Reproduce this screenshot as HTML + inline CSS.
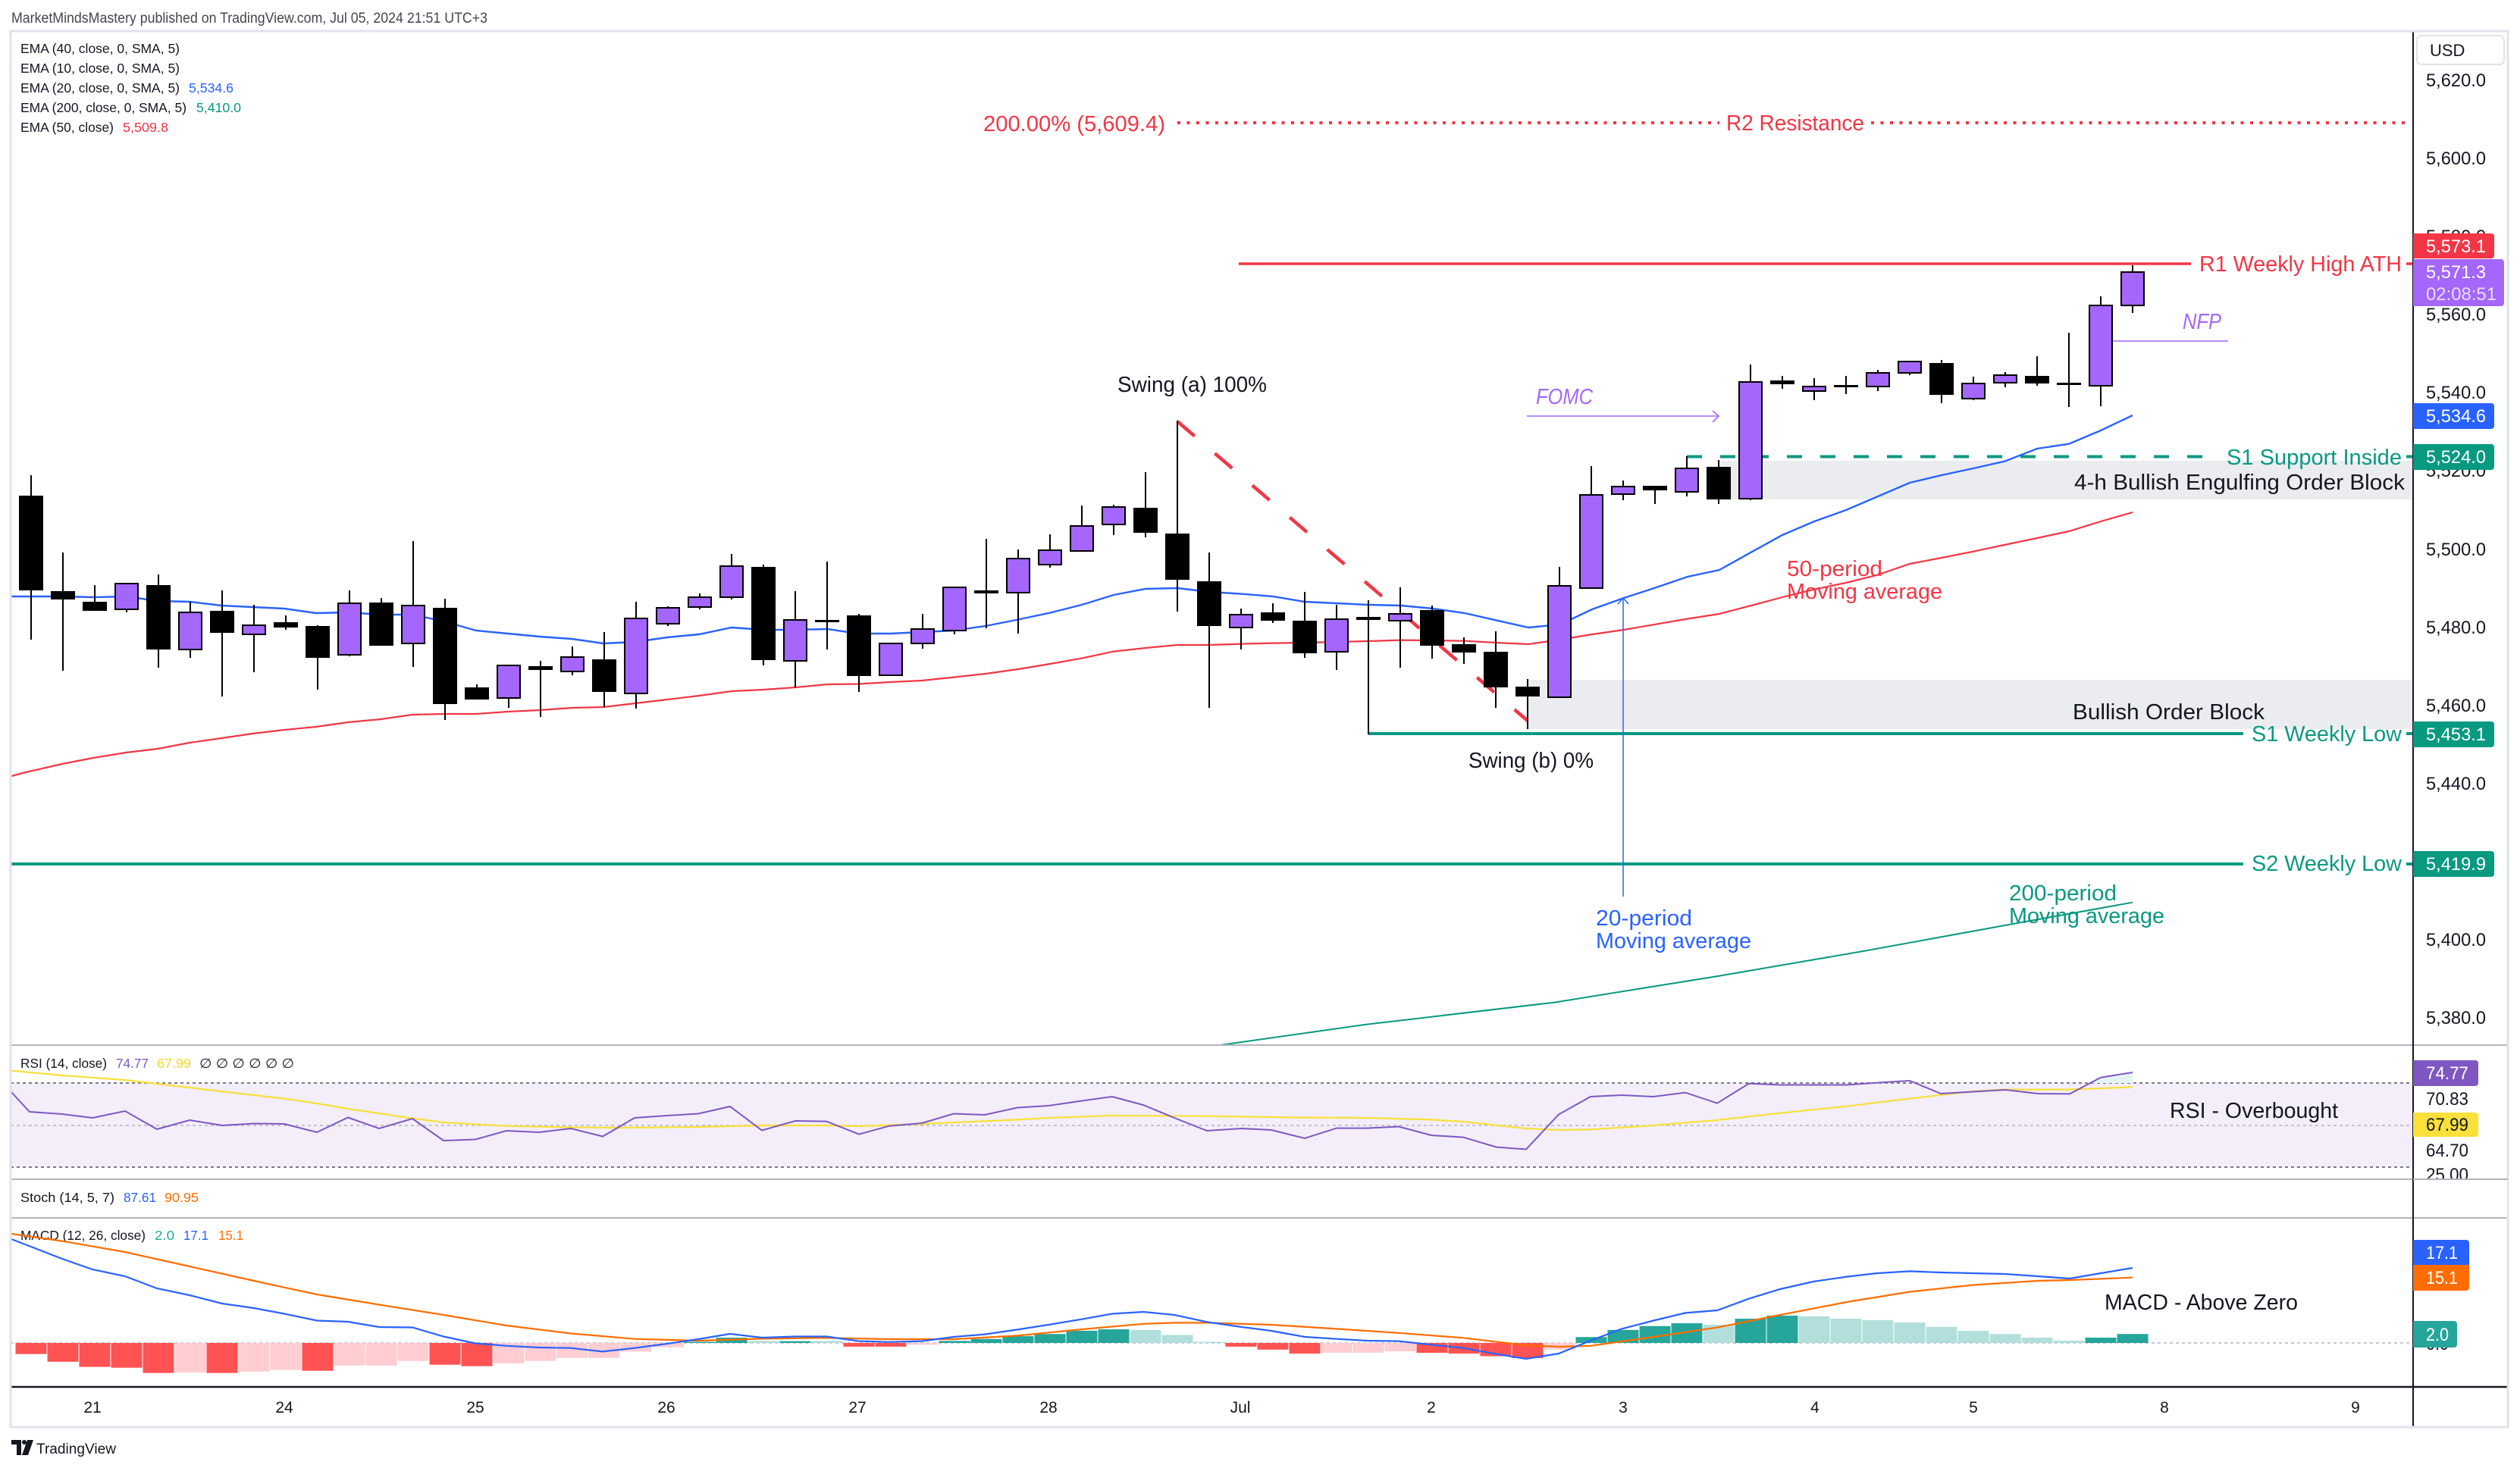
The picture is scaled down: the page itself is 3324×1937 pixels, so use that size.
<!DOCTYPE html>
<html><head><meta charset="utf-8"><style>
html,body{margin:0;padding:0;background:#fff;}
svg{display:block;}
text{font-family:"Liberation Sans",sans-serif;}
</style></head><body>
<svg width="3324" height="1937" viewBox="0 0 3324 1937" xmlns="http://www.w3.org/2000/svg">
<defs>
<clipPath id="cMain"><rect x="14" y="41" width="3169" height="1338"/></clipPath>
<clipPath id="cRsi"><rect x="14" y="1380" width="3169" height="176"/></clipPath>
<clipPath id="cMacd"><rect x="14" y="1608" width="3169" height="222"/></clipPath>
</defs>
<rect width="3324" height="1937" fill="#fff"/>

<!-- header -->
<text x="15" y="30" font-size="19" fill="#434651" textLength="628" lengthAdjust="spacingAndGlyphs">MarketMindsMastery published on TradingView.com, Jul 05, 2024 21:51 UTC+3</text>

<!-- RSI band -->
<rect x="14" y="1429" width="3169" height="111" fill="#f3eef9"/>

<!-- main pane content -->
<g clip-path="url(#cMain)">
  <!-- order blocks -->
  <rect x="2015" y="897" width="1168" height="65" fill="#ebecef"/>
  <rect x="2267" y="608" width="916" height="51" fill="#ebecef"/>

  <!-- R2 dotted -->
  <line x1="1553" y1="162" x2="2268" y2="162" stroke="#f23645" stroke-width="4" stroke-dasharray="4 8.5"/>
  <line x1="2468" y1="162" x2="3180" y2="162" stroke="#f23645" stroke-width="4" stroke-dasharray="4 8.5"/>
  <!-- R1 -->
  <line x1="1634" y1="348" x2="2890" y2="348" stroke="#f23645" stroke-width="3.5"/>
  <line x1="3174" y1="348" x2="3183" y2="348" stroke="#f23645" stroke-width="3.5"/>
  <!-- S1 support dashed -->
  <line x1="2225" y1="602.5" x2="2905" y2="602.5" stroke="#089981" stroke-width="4" stroke-dasharray="20 24"/>
  <line x1="3174" y1="602.5" x2="3183" y2="602.5" stroke="#089981" stroke-width="4"/>
  <!-- S1 weekly low -->
  <line x1="1805" y1="968" x2="2959" y2="968" stroke="#089981" stroke-width="4"/>
  <line x1="3174" y1="968" x2="3183" y2="968" stroke="#089981" stroke-width="4"/>
  <!-- S2 weekly low -->
  <line x1="14" y1="1140" x2="2959" y2="1140" stroke="#089981" stroke-width="4"/>
  <line x1="3174" y1="1140" x2="3183" y2="1140" stroke="#089981" stroke-width="4"/>

  <!-- EMA lines -->
  <polyline fill="none" stroke="#089981" stroke-width="2" points="1560,1386 1800,1352 2050,1322.7 2266,1288 2458,1255 2650,1220 2813,1190.7"/>
  <polyline fill="none" stroke="#f23645" stroke-width="2.2" points="0,1029 15,1024 34,1019 82,1008 123,1000 166,993 208,988 250,980 292,974 333,968 375,963 417,959 459,953 502,949 544,943 586,942 628,942 670,939 712,937 754,934 796,933 838,928 880,923 922,918 965,912 1007,910 1049,907 1091,903 1132,902.5 1174,900 1216,898 1258,893.6 1300,889 1343,883 1385,876 1427,868.6 1469,859.6 1511,855 1553,851 1595,851 1637,849.6 1679,848.6 1721,848 1763,847 1805,846 1848,844.6 1890,845 1932,845.7 1974,848 2016,850 2058,844 2100,837 2142,831 2226,816.5 2268,810 2310,799 2351,788 2393,777.7 2435,769 2477,758.5 2519,744 2561,736 2603,727.7 2645,718.75 2687,710 2729,701 2771,688 2813,676"/>
  <polyline fill="none" stroke="#2962ff" stroke-width="2.4" points="15,787 40,787 82,787 123,788 166,787 208,793 250,794 292,799 333,801 375,803 417,809 459,808 502,811 544,811 586,820 628,832 670,836 712,840 754,843 796,849 838,847 880,841 922,837 965,828 1007,831 1049,831 1091,830 1132,836 1174,836 1216,834 1258,832 1300,826 1343,817.5 1385,808.6 1427,798 1469,785 1511,777 1553,776 1595,781 1637,783.6 1679,787 1721,794 1763,796 1805,798 1848,799 1890,803 1932,809 1974,818.6 2016,828 2058,824 2100,804 2142,789 2182,776 2226,761 2268,752 2310,728.6 2351,706 2393,688 2435,673 2477,655 2519,637 2561,627 2603,618 2645,608.5 2687,592 2729,585.7 2771,568 2813,548"/>

  <!-- swing dashed -->
  <line x1="1553" y1="556" x2="2015" y2="951" stroke="#f23645" stroke-width="4.5" stroke-dasharray="30 35"/>

  <!-- FOMC arrow -->
  <line x1="2014" y1="549" x2="2267" y2="549" stroke="#a466fb" stroke-width="1.6"/>
  <polyline points="2259,542 2267,549 2259,557" fill="none" stroke="#a466fb" stroke-width="1.6"/>
  <!-- NFP line -->
  <line x1="2787" y1="450" x2="2939" y2="450" stroke="#a466fb" stroke-width="1.6"/>
  <!-- 20 period pointer -->
  <line x1="2141" y1="789" x2="2141" y2="1183" stroke="#2962ff" stroke-width="1.5"/>
  <polyline points="2134,797 2141,789 2148,797" fill="none" stroke="#2962ff" stroke-width="1.5"/>

  <!-- wicks -->
  <path fill="none" stroke="#000" stroke-width="2" d="M41 627V844M83 729V885M125 772V806M167 770V808M209 758V881M251 794V868M293 779V919M335 798V887M377 812V831M419 825V910M461 779V866M503 789V852M545 714V880M587 790V950M629 903V923M671 878V934M713 872V946M755 853V891M797 834V933M839 794V935M881 800V826M923 783V804M965 731V791M1007 745V878M1049 780V907M1091 741V857M1133 810V913M1175 849V892M1217 810V856M1259 774V837M1301 711V829M1343 725V836M1385 705V749M1427 667V727M1469 666V706M1511 623V709M1553 555V807M1595 729V934M1637 803V857M1679 796V822M1721 781V868M1763 798V884M1805 792V969M1847 775V881M1889 799V869M1931 841V876M1973 833V934M2015 896V962M2057 748V920M2099 615V777M2141 634V660M2183 641V665M2225 602V655M2267 607V665M2309 481V660M2351 496V513M2393 499V528M2435 496V520M2477 488V516M2519 477V495M2561 475V532M2603 497V528M2645 491V511M2687 470V509M2729 439V537M2771 391V536M2813 350V413"/>
  <!-- black bodies -->
  <g fill="#000">
    <rect x="25" y="654" width="32" height="125"/><rect x="67" y="780" width="32" height="11"/><rect x="109" y="794" width="32" height="12"/><rect x="193" y="772" width="32" height="85"/><rect x="277" y="806" width="32" height="29"/><rect x="361" y="821" width="32" height="7"/><rect x="403" y="826" width="32" height="42"/><rect x="487" y="795" width="32" height="57"/><rect x="571" y="802" width="32" height="127"/><rect x="613" y="907" width="32" height="16"/><rect x="697" y="879" width="32" height="5"/><rect x="781" y="870" width="32" height="43"/><rect x="991" y="748" width="32" height="123"/><rect x="1075" y="818" width="32" height="3"/><rect x="1117" y="812" width="32" height="80"/><rect x="1285" y="779" width="32" height="4"/><rect x="1495" y="670" width="32" height="33"/><rect x="1537" y="704" width="32" height="61"/><rect x="1579" y="767" width="32" height="59"/><rect x="1663" y="808" width="32" height="11"/><rect x="1705" y="819" width="32" height="43"/><rect x="1789" y="814" width="32" height="4"/><rect x="1873" y="805" width="32" height="47"/><rect x="1915" y="850" width="32" height="11"/><rect x="1957" y="860" width="32" height="47"/><rect x="1999" y="906" width="32" height="13"/><rect x="2167" y="641" width="32" height="6"/><rect x="2251" y="616" width="32" height="43"/><rect x="2335" y="502" width="32" height="5"/><rect x="2419" y="508" width="32" height="3"/><rect x="2545" y="479" width="32" height="42"/><rect x="2671" y="496" width="32" height="10"/><rect x="2713" y="505" width="32" height="3"/>
  </g>
  <!-- purple bodies -->
  <g fill="#a466fb" stroke="#000" stroke-width="2">
    <rect x="152" y="770" width="30" height="34"/><rect x="236" y="808" width="30" height="49"/><rect x="320" y="825" width="30" height="12"/><rect x="446" y="796" width="30" height="68"/><rect x="530" y="799" width="30" height="50"/><rect x="656" y="878" width="30" height="43"/><rect x="740" y="867" width="30" height="19"/><rect x="824" y="816" width="30" height="99"/><rect x="866" y="802" width="30" height="21"/><rect x="908" y="788" width="30" height="13"/><rect x="950" y="747" width="30" height="41"/><rect x="1034" y="818" width="30" height="54"/><rect x="1160" y="849" width="30" height="42"/><rect x="1202" y="830" width="30" height="19"/><rect x="1244" y="775" width="30" height="57"/><rect x="1328" y="737" width="30" height="45"/><rect x="1370" y="726" width="30" height="19"/><rect x="1412" y="694" width="30" height="33"/><rect x="1454" y="669" width="30" height="23"/><rect x="1622" y="811" width="30" height="17"/><rect x="1748" y="817" width="30" height="43"/><rect x="1832" y="810" width="30" height="9"/><rect x="2042" y="773" width="30" height="147"/><rect x="2084" y="653" width="30" height="123"/><rect x="2126" y="642" width="30" height="10"/><rect x="2210" y="618" width="30" height="31"/><rect x="2294" y="504" width="30" height="154"/><rect x="2378" y="510" width="30" height="6"/><rect x="2462" y="492" width="30" height="18"/><rect x="2504" y="477" width="30" height="15"/><rect x="2588" y="506" width="30" height="20"/><rect x="2630" y="495" width="30" height="10"/><rect x="2756" y="403" width="30" height="106"/><rect x="2798" y="359" width="30" height="44"/>
  </g>

  <!-- annotations -->
  <text x="1297" y="173" font-size="29" fill="#f23645" textLength="240" lengthAdjust="spacingAndGlyphs">200.00% (5,609.4)</text>
  <text x="2277" y="172" font-size="29" fill="#f23645" textLength="182" lengthAdjust="spacingAndGlyphs">R2 Resistance</text>
  <text x="2901" y="358" font-size="29" fill="#f23645" textLength="267" lengthAdjust="spacingAndGlyphs">R1 Weekly High ATH</text>
  <text x="2879" y="434" font-size="29" font-style="italic" fill="#a466fb" textLength="51" lengthAdjust="spacingAndGlyphs">NFP</text>
  <text x="1474" y="517" font-size="29" fill="#131722" textLength="197" lengthAdjust="spacingAndGlyphs">Swing (a) 100%</text>
  <text x="2026" y="533" font-size="29" font-style="italic" fill="#a466fb" textLength="75" lengthAdjust="spacingAndGlyphs">FOMC</text>
  <text x="2937" y="613" font-size="29" fill="#089981" textLength="231" lengthAdjust="spacingAndGlyphs">S1 Support Inside</text>
  <text x="2736" y="646" font-size="29" fill="#131722" textLength="436" lengthAdjust="spacingAndGlyphs">4-h Bullish Engulfing Order Block</text>
  <text x="2357" y="760" font-size="29" fill="#f23645" textLength="126" lengthAdjust="spacingAndGlyphs">50-period</text>
  <text x="2357" y="790" font-size="29" fill="#f23645" textLength="205" lengthAdjust="spacingAndGlyphs">Moving average</text>
  <text x="2734" y="949" font-size="29" fill="#131722" textLength="253" lengthAdjust="spacingAndGlyphs">Bullish Order Block</text>
  <text x="2970" y="978" font-size="29" fill="#089981" textLength="198" lengthAdjust="spacingAndGlyphs">S1 Weekly Low</text>
  <text x="1937" y="1013" font-size="29" fill="#131722" textLength="165" lengthAdjust="spacingAndGlyphs">Swing (b) 0%</text>
  <text x="2970" y="1149" font-size="29" fill="#089981" textLength="198" lengthAdjust="spacingAndGlyphs">S2 Weekly Low</text>
  <text x="2650" y="1188" font-size="29" fill="#089981" textLength="142" lengthAdjust="spacingAndGlyphs">200-period</text>
  <text x="2650" y="1218" font-size="29" fill="#089981" textLength="205" lengthAdjust="spacingAndGlyphs">Moving average</text>
  <text x="2105" y="1221" font-size="29" fill="#2962ff" textLength="127" lengthAdjust="spacingAndGlyphs">20-period</text>
  <text x="2105" y="1251" font-size="29" fill="#2962ff" textLength="205" lengthAdjust="spacingAndGlyphs">Moving average</text>
</g>

<!-- legend -->
<g font-size="17.5" fill="#131722">
  <text x="27" y="70" textLength="210" lengthAdjust="spacingAndGlyphs">EMA (40, close, 0, SMA, 5)</text>
  <text x="27" y="96" textLength="210" lengthAdjust="spacingAndGlyphs">EMA (10, close, 0, SMA, 5)</text>
  <text x="27" y="122" textLength="210" lengthAdjust="spacingAndGlyphs">EMA (20, close, 0, SMA, 5)</text>
  <text x="249" y="122" fill="#2962ff" textLength="59" lengthAdjust="spacingAndGlyphs">5,534.6</text>
  <text x="27" y="148" textLength="219" lengthAdjust="spacingAndGlyphs">EMA (200, close, 0, SMA, 5)</text>
  <text x="259" y="148" fill="#089981" textLength="59" lengthAdjust="spacingAndGlyphs">5,410.0</text>
  <text x="27" y="174" textLength="123" lengthAdjust="spacingAndGlyphs">EMA (50, close)</text>
  <text x="162" y="174" fill="#f23645" textLength="60" lengthAdjust="spacingAndGlyphs">5,509.8</text>
</g>

<!-- RSI pane -->
<line x1="14" y1="1429" x2="3183" y2="1429" stroke="#787b86" stroke-width="2" stroke-dasharray="4 4"/>
<line x1="14" y1="1485" x2="3183" y2="1485" stroke="#b2b5be" stroke-width="1.5" stroke-dasharray="4 4"/>
<line x1="14" y1="1540" x2="3183" y2="1540" stroke="#787b86" stroke-width="2" stroke-dasharray="4 4"/>
<g clip-path="url(#cRsi)">
  <polygon points="2752,1429 2771,1421.7 2813,1415 2813,1429" fill="#e6f4f1"/>
  <polyline fill="none" stroke="#f9e03a" stroke-width="2.2" points="15,1412.7 82,1419 165,1425 207,1430 296,1440.5 378,1450 418,1456 459,1463 544,1475.6 585,1481 668,1485.7 753,1487.5 816,1488 921,1487 1005,1485 1090,1485 1133,1486 1216,1483 1342,1477.4 1383,1475 1467,1472 1592,1472.7 1710,1474.5 1803,1475 1888,1477.4 1930,1480 2013,1489 2056,1491 2098,1490.4 2181,1485 2265,1478 2348,1468.7 2436,1459.7 2519,1449.6 2603,1440 2645,1437.6 2730,1437.6 2813,1434.4"/>
  <polyline fill="none" stroke="#7e57c2" stroke-width="2" points="15,1441 39,1467 82,1470 122,1475 165,1466 207,1490 250,1478 293,1485 335,1482.5 375,1483 418,1494 459,1474.5 500,1489 544,1476 585,1505 627,1503.5 668,1492 711,1494 753,1489 795,1499.5 837,1475 880,1472 921,1469.5 963,1460 1005,1491.5 1049,1479 1090,1479.6 1133,1496.6 1173,1485.7 1216,1482 1258,1469.5 1299,1471 1342,1461.5 1383,1459 1427,1452.5 1467,1447 1508,1458 1549,1475 1592,1492 1638,1489 1677,1491 1721,1502 1763,1488.6 1803,1488.6 1845,1486.5 1888,1498 1930,1500.6 1974,1513.6 2013,1516.5 2056,1470.5 2098,1447 2139,1445 2181,1447 2223,1441.6 2265,1455.7 2307,1429.7 2348,1431.5 2392,1431.5 2436,1431.5 2476,1428.6 2519,1426 2560,1443 2603,1440.5 2645,1438 2688,1443 2730,1443.4 2771,1421.7 2813,1415"/>
</g>
<g font-size="17.5">
  <text x="27" y="1409" fill="#131722" textLength="114" lengthAdjust="spacingAndGlyphs">RSI (14, close)</text>
  <text x="153" y="1409" fill="#7e57c2" textLength="43" lengthAdjust="spacingAndGlyphs">74.77</text>
  <text x="207" y="1409" fill="#f5d826" textLength="45" lengthAdjust="spacingAndGlyphs">67.99</text>
  <text x="263" y="1409" fill="#131722" textLength="125" lengthAdjust="spacingAndGlyphs">∅ ∅ ∅ ∅ ∅ ∅</text>
  <text x="27" y="1586" fill="#131722" textLength="124" lengthAdjust="spacingAndGlyphs">Stoch (14, 5, 7)</text>
  <text x="163" y="1586" fill="#2962ff" textLength="43" lengthAdjust="spacingAndGlyphs">87.61</text>
  <text x="217" y="1586" fill="#ff6d00" textLength="45" lengthAdjust="spacingAndGlyphs">90.95</text>
  <text x="27" y="1636" fill="#131722" textLength="165" lengthAdjust="spacingAndGlyphs">MACD (12, 26, close)</text>
  <text x="204" y="1636" fill="#22ab94" textLength="26" lengthAdjust="spacingAndGlyphs">2.0</text>
  <text x="242" y="1636" fill="#2962ff" textLength="33" lengthAdjust="spacingAndGlyphs">17.1</text>
  <text x="288" y="1636" fill="#ff6d00" textLength="33" lengthAdjust="spacingAndGlyphs">15.1</text>
</g>
<text x="2862" y="1475" font-size="29" fill="#131722" textLength="222" lengthAdjust="spacingAndGlyphs">RSI - Overbought</text>

<!-- MACD pane -->
<line x1="14" y1="1772" x2="3183" y2="1772" stroke="#b2b5be" stroke-width="1.5" stroke-dasharray="4 4"/>
<g clip-path="url(#cMacd)">
<g fill="#ff5252">
<rect x="20.5" y="1772" width="41" height="14.6"/><rect x="62.5" y="1772" width="41" height="24.8"/><rect x="104.5" y="1772" width="41" height="31.6"/><rect x="146.5" y="1772" width="41" height="32.7"/><rect x="188.5" y="1772" width="41" height="39.6"/><rect x="272.5" y="1772" width="41" height="39.6"/><rect x="398.5" y="1772" width="41" height="36.7"/><rect x="566.5" y="1772" width="41" height="28.7"/><rect x="608.5" y="1772" width="41" height="30.6"/><rect x="1112.5" y="1772" width="41" height="4.9"/><rect x="1154.5" y="1772" width="41" height="4.9"/><rect x="1616.5" y="1772" width="41" height="4.9"/><rect x="1658.5" y="1772" width="41" height="8.8"/><rect x="1700.5" y="1772" width="41" height="14"/><rect x="1868.5" y="1772" width="41" height="13"/><rect x="1910.5" y="1772" width="41" height="14"/><rect x="1952.5" y="1772" width="41" height="17.5"/><rect x="1994.5" y="1772" width="41" height="20"/>
</g>
<g fill="#ffcdd2">
<rect x="230.5" y="1772" width="41" height="38.9"/><rect x="314.5" y="1772" width="41" height="37.8"/><rect x="356.5" y="1772" width="41" height="35.6"/><rect x="440.5" y="1772" width="41" height="29.8"/><rect x="482.5" y="1772" width="41" height="29.8"/><rect x="524.5" y="1772" width="41" height="23.7"/><rect x="650.5" y="1772" width="41" height="26.9"/><rect x="692.5" y="1772" width="41" height="23.7"/><rect x="734.5" y="1772" width="41" height="19.7"/><rect x="776.5" y="1772" width="41" height="19.7"/><rect x="818.5" y="1772" width="41" height="11.4"/><rect x="860.5" y="1772" width="41" height="5.6"/><rect x="1196.5" y="1772" width="41" height="2.3"/><rect x="1742.5" y="1772" width="41" height="12.8"/><rect x="1784.5" y="1772" width="41" height="12.8"/><rect x="1826.5" y="1772" width="41" height="11"/><rect x="2036.5" y="1772" width="41" height="8.8"/>
</g>
<g fill="#26a69a">
<rect x="902.5" y="1770.5" width="41" height="1.5"/><rect x="944.5" y="1765" width="41" height="7"/><rect x="1028.5" y="1769.6" width="41" height="2.4"/><rect x="1238.5" y="1769.3" width="41" height="2.7"/><rect x="1280.5" y="1766.7" width="41" height="5.3"/><rect x="1322.5" y="1763.1" width="41" height="8.9"/><rect x="1364.5" y="1760.2" width="41" height="11.8"/><rect x="1406.5" y="1755.9" width="41" height="16.1"/><rect x="1448.5" y="1754" width="41" height="18"/><rect x="2078.5" y="1764.2" width="41" height="7.8"/><rect x="2120.5" y="1754.8" width="41" height="17.2"/><rect x="2162.5" y="1749.7" width="41" height="22.3"/><rect x="2204.5" y="1746" width="41" height="26"/><rect x="2288.5" y="1740" width="41" height="32"/><rect x="2330.5" y="1736" width="41" height="36"/><rect x="2750.5" y="1765" width="41" height="7"/><rect x="2792.5" y="1760.2" width="41" height="11.8"/>
</g>
<g fill="#b2dfdb">
<rect x="986.5" y="1769.3" width="41" height="2.7"/><rect x="1070.5" y="1769.3" width="41" height="2.7"/><rect x="1490.5" y="1755" width="41" height="17"/><rect x="1532.5" y="1761.5" width="41" height="10.5"/><rect x="1574.5" y="1770.5" width="41" height="1.5"/><rect x="2246.5" y="1748" width="41" height="24"/><rect x="2372.5" y="1737" width="41" height="35"/><rect x="2414.5" y="1740" width="41" height="32"/><rect x="2456.5" y="1741.8" width="41" height="30.2"/><rect x="2498.5" y="1745" width="41" height="27"/><rect x="2540.5" y="1750.8" width="41" height="21.2"/><rect x="2582.5" y="1756" width="41" height="16"/><rect x="2624.5" y="1760.2" width="41" height="11.8"/><rect x="2666.5" y="1765" width="41" height="7"/><rect x="2708.5" y="1768.9" width="41" height="3.1"/>
</g>
<polyline fill="none" stroke="#ff6d00" stroke-width="2.2" points="15,1628 82,1637.6 165,1652 250,1671 335,1690 418,1708 500,1721.5 585,1735 668,1749 753,1759.5 837,1766.7 921,1769 1005,1766.4 1090,1765.3 1173,1767 1258,1767 1342,1762.4 1427,1754 1508,1746.8 1549,1745.4 1592,1745.4 1677,1748 1763,1753.4 1845,1758.8 1930,1765.3 2013,1775 2056,1777 2098,1775.8 2181,1764 2265,1751.6 2348,1735 2436,1718 2519,1704.5 2603,1695.5 2688,1690 2730,1689 2813,1685.7"/>
<polyline fill="none" stroke="#2962ff" stroke-width="2.2" points="15,1635 41,1645 82,1661 122,1675 165,1684 207,1700 250,1709 293,1720 335,1726 375,1733.5 418,1742.5 459,1744 500,1751 544,1751.5 585,1763.5 627,1772.5 668,1775.8 711,1778 753,1778.7 795,1783.4 837,1778.7 880,1773 921,1767 963,1760 1005,1765 1049,1763.5 1090,1763.5 1133,1769.6 1173,1770.7 1216,1769.6 1258,1764 1299,1760.6 1342,1754.4 1383,1748 1427,1740.7 1467,1733.5 1508,1731 1549,1735 1592,1744.3 1638,1751 1677,1756 1721,1764 1763,1766.7 1803,1769 1845,1769.6 1888,1774.3 1930,1778.7 1974,1786.6 2013,1793 2056,1786 2098,1769 2139,1753.4 2181,1742.5 2223,1732.4 2265,1729 2307,1713.6 2348,1701 2392,1691 2436,1684.6 2476,1680 2519,1677.4 2560,1679 2603,1680 2645,1681 2688,1684 2730,1687 2771,1680 2813,1673"/>
</g>
<text x="2776" y="1728" font-size="29" fill="#131722" textLength="255" lengthAdjust="spacingAndGlyphs">MACD - Above Zero</text>

<!-- pane separators and frame -->
<line x1="14" y1="1379" x2="3308" y2="1379" stroke="#b2b5be" stroke-width="2"/>
<line x1="14" y1="1556" x2="3308" y2="1556" stroke="#b2b5be" stroke-width="2"/>
<line x1="14" y1="1607" x2="3308" y2="1607" stroke="#b2b5be" stroke-width="2"/>
<line x1="14" y1="1830" x2="3308" y2="1830" stroke="#131722" stroke-width="2.5"/>
<line x1="3183" y1="41" x2="3183" y2="1883" stroke="#131722" stroke-width="2"/>
<rect x="14" y="41" width="3294" height="1842" fill="none" stroke="#e0e3eb" stroke-width="3"/>

<!-- price axis -->
<rect x="3188" y="47" width="115" height="38" rx="6" fill="#fff" stroke="#e0e3eb" stroke-width="2"/>
<text x="3205" y="74" font-size="22" fill="#131722">USD</text>
<g font-size="24" fill="#131722">
  <text x="3200" y="114" textLength="79" lengthAdjust="spacingAndGlyphs">5,620.0</text>
  <text x="3200" y="217" textLength="79" lengthAdjust="spacingAndGlyphs">5,600.0</text>
  <text x="3200" y="320" textLength="79" lengthAdjust="spacingAndGlyphs">5,580.0</text>
  <text x="3200" y="423" textLength="79" lengthAdjust="spacingAndGlyphs">5,560.0</text>
  <text x="3200" y="526" textLength="79" lengthAdjust="spacingAndGlyphs">5,540.0</text>
  <text x="3200" y="629" textLength="79" lengthAdjust="spacingAndGlyphs">5,520.0</text>
  <text x="3200" y="733" textLength="79" lengthAdjust="spacingAndGlyphs">5,500.0</text>
  <text x="3200" y="836" textLength="79" lengthAdjust="spacingAndGlyphs">5,480.0</text>
  <text x="3200" y="939" textLength="79" lengthAdjust="spacingAndGlyphs">5,460.0</text>
  <text x="3200" y="1042" textLength="79" lengthAdjust="spacingAndGlyphs">5,440.0</text>
  <text x="3200" y="1248" textLength="79" lengthAdjust="spacingAndGlyphs">5,400.0</text>
  <text x="3200" y="1351" textLength="79" lengthAdjust="spacingAndGlyphs">5,380.0</text>
  <text x="3200" y="1458" textLength="56" lengthAdjust="spacingAndGlyphs">70.83</text>
  <text x="3200" y="1526" textLength="56" lengthAdjust="spacingAndGlyphs">64.70</text>
  <text x="3200" y="1558" textLength="56" lengthAdjust="spacingAndGlyphs">25.00</text>
  <text x="3200" y="1781" textLength="30" lengthAdjust="spacingAndGlyphs">0.0</text>
</g>
<rect x="3184" y="1557" width="123" height="49" fill="#fff"/>
<line x1="3183" y1="1556" x2="3308" y2="1556" stroke="#b2b5be" stroke-width="2"/>
<!-- price boxes -->
<g font-size="24" fill="#fff">
  <path d="M3183 308H3286a4 4 0 0 1 4 4V337a4 4 0 0 1 -4 4H3183Z" fill="#f23645"/>
  <text x="3200" y="333" textLength="79" lengthAdjust="spacingAndGlyphs">5,573.1</text>
  <path d="M3183 342H3299a4 4 0 0 1 4 4V400a4 4 0 0 1 -4 4H3183Z" fill="#a466fb"/>
  <text x="3200" y="367" textLength="79" lengthAdjust="spacingAndGlyphs">5,571.3</text>
  <text x="3200" y="396" fill="#eadcff" textLength="93" lengthAdjust="spacingAndGlyphs">02:08:51</text>
  <path d="M3183 532H3286a4 4 0 0 1 4 4V562a4 4 0 0 1 -4 4H3183Z" fill="#2962ff"/>
  <text x="3200" y="557" textLength="79" lengthAdjust="spacingAndGlyphs">5,534.6</text>
  <path d="M3183 586H3286a4 4 0 0 1 4 4V616a4 4 0 0 1 -4 4H3183Z" fill="#089981"/>
  <text x="3200" y="611" textLength="79" lengthAdjust="spacingAndGlyphs">5,524.0</text>
  <path d="M3183 952H3286a4 4 0 0 1 4 4V982a4 4 0 0 1 -4 4H3183Z" fill="#089981"/>
  <text x="3200" y="977" textLength="79" lengthAdjust="spacingAndGlyphs">5,453.1</text>
  <path d="M3183 1123H3286a4 4 0 0 1 4 4V1153a4 4 0 0 1 -4 4H3183Z" fill="#089981"/>
  <text x="3200" y="1148" textLength="79" lengthAdjust="spacingAndGlyphs">5,419.9</text>
  <path d="M3183 1399H3265a4 4 0 0 1 4 4V1429a4 4 0 0 1 -4 4H3183Z" fill="#7e57c2"/>
  <text x="3200" y="1424" textLength="56" lengthAdjust="spacingAndGlyphs">74.77</text>
  <path d="M3183 1468H3265a4 4 0 0 1 4 4V1496a4 4 0 0 1 -4 4H3183Z" fill="#f9e03a"/>
  <text x="3200" y="1492" fill="#131722" textLength="56" lengthAdjust="spacingAndGlyphs">67.99</text>
  <path d="M3183 1636H3253a4 4 0 0 1 4 4V1669H3183Z" fill="#2962ff"/>
  <text x="3200" y="1661" textLength="42" lengthAdjust="spacingAndGlyphs">17.1</text>
  <path d="M3183 1669H3257V1699a4 4 0 0 1 -4 4H3183Z" fill="#ff6d00"/>
  <text x="3200" y="1694" textLength="42" lengthAdjust="spacingAndGlyphs">15.1</text>
  <path d="M3183 1743H3237a4 4 0 0 1 4 4V1774a4 4 0 0 1 -4 4H3183Z" fill="#26a69a"/>
  <text x="3200" y="1769" textLength="30" lengthAdjust="spacingAndGlyphs">2.0</text>
</g>

<!-- time axis -->
<g font-size="21" fill="#131722" text-anchor="middle">
  <text x="122" y="1864">21</text><text x="375" y="1864">24</text><text x="627" y="1864">25</text><text x="879" y="1864">26</text><text x="1131" y="1864">27</text><text x="1383" y="1864">28</text><text x="1636" y="1864">Jul</text><text x="1888" y="1864">2</text><text x="2141" y="1864">3</text><text x="2394" y="1864">4</text><text x="2603" y="1864">5</text><text x="2855" y="1864">8</text><text x="3107" y="1864">9</text>
</g>

<!-- TradingView logo -->
<path d="M15 1900H28V1920H22V1906H15Z" fill="#131722"/>
<circle cx="32" cy="1903" r="3" fill="#131722"/>
<path d="M36 1900H44L37 1920H29Z" fill="#131722"/>
<text x="48" y="1918" font-size="19" fill="#131722" textLength="105" lengthAdjust="spacingAndGlyphs">TradingView</text>
</svg>
</body></html>
